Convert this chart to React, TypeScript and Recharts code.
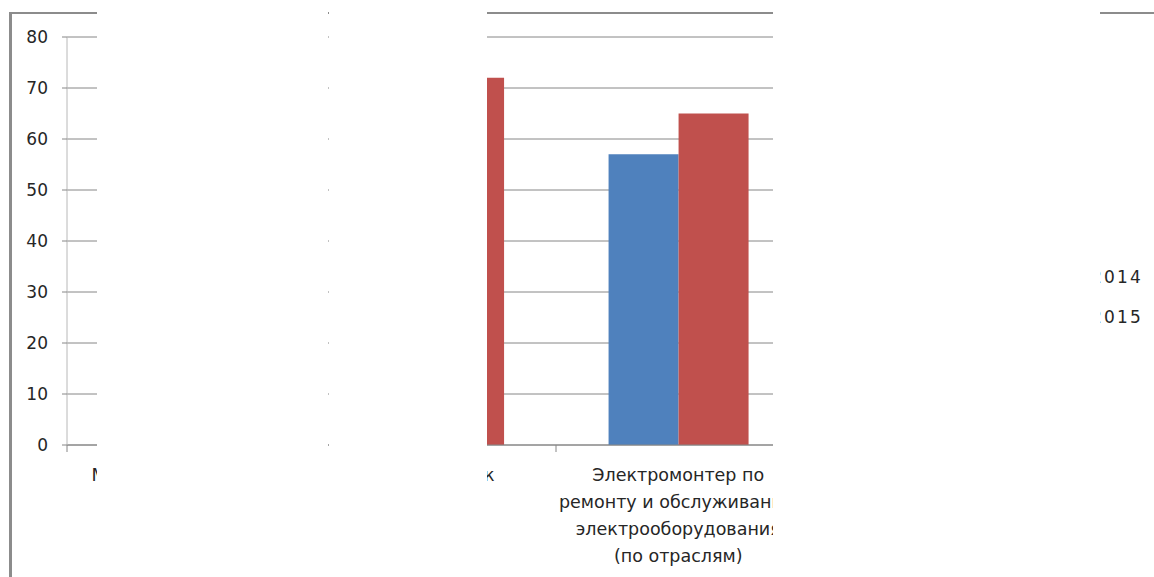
import React from "react";
import { Bar, BarChart, CartesianGrid, Legend, XAxis, YAxis } from "recharts";

// categories (label lines split by \n), series and axis ticks
const categories = [
  "Мастер столярного и\nмебельного\nпроизводства",
  "Автомеханик",
  "Электромонтер по\nремонту и обслуживанию\nэлектрооборудования\n(по отраслям)",
  "",
];
const seriesNames = ["2014", "2015"];
const values2014 = [null, null, 57, null];
const values2015 = [null, 72, 65, null];
const yTicks = [0, 10, 20, 30, 40, 50, 60, 70, 80];
const edgeTicks = [0, 1, 2, 3, 4];

const BLUE = "#4F81BD";
const RED = "#C0504D";
const GRID = "#868686";
const FONT = "'DejaVu Sans', Verdana, sans-serif";

const data = categories.map((name, i) => ({
  name,
  pos: i + 0.5,
  y2014: values2014[i],
  y2015: values2015[i],
}));

const CategoryTick = ({ x, y, payload }: any) => {
  const lines = String(payload.value).split("\n");
  return (
    <text x={x} y={y + 27} textAnchor="middle" fontFamily={FONT} fontSize={17.5} fill="#262626">
      {lines.map((line, i) => (
        <tspan key={i} x={x} dy={i === 0 ? 0 : 27}>
          {line}
        </tspan>
      ))}
    </text>
  );
};

const LegendBox = ({ payload }: any) => (
  <div style={{ fontFamily: FONT, fontSize: 17, color: "#262626" }}>
    {(payload || []).map((item: any) => (
      <div key={item.value} style={{ display: "flex", alignItems: "center", height: 40 }}>
        <span style={{ width: 10, height: 10, background: item.color, marginRight: 7 }} />
        <span style={{ letterSpacing: 2.2 }}>{item.value}</span>
      </div>
    ))}
  </div>
);

const mask = (left: number, width: number): React.CSSProperties => ({
  position: "absolute",
  left,
  top: 0,
  width,
  height: 577,
  background: "#fff",
});

export default function App() {
  return (
    <div
      style={{
        position: "absolute",
        left: 0,
        top: 0,
        width: 1154,
        height: 577,
        overflow: "hidden",
        background: "#fff",
      }}
    >
      <div
        style={{
          position: "absolute",
          left: 9,
          top: 12,
          width: 2000,
          height: 2000,
          borderLeft: "3px solid #8c8c8c",
          borderTop: "2px solid #8c8c8c",
        }}
      />
      <BarChart
        width={1154}
        height={577}
        data={data}
        margin={{ top: 37, right: 109, bottom: 0, left: 0 }}
        barCategoryGap="21.5%"
        barGap={0}
        style={{ position: "absolute", left: 0, top: 0 }}
      >
        <CartesianGrid horizontal vertical={false} stroke={GRID} xAxisId="bCat" />
        <XAxis
          xAxisId="aEdge"
          type="number"
          dataKey="pos"
          domain={[0, categories.length]}
          ticks={edgeTicks}
          allowDataOverflow
          height={1}
          tickSize={7}
          tickLine={{ stroke: GRID }}
          axisLine={{ stroke: GRID }}
          tick={() => <g />}
        />
        <XAxis
          xAxisId="bCat"
          dataKey="name"
          height={131}
          interval={0}
          axisLine={false}
          tickLine={false}
          tick={<CategoryTick />}
        />
        <YAxis
          width={67}
          domain={[0, 80]}
          ticks={yTicks}
          tickSize={5}
          tickMargin={14}
          axisLine={{ stroke: "#b8b8b8" }}
          tickLine={{ stroke: GRID }}
          tick={{ fontFamily: FONT, fontSize: 17, fill: "#262626" }}
        />
        <Legend
          layout="vertical"
          verticalAlign="middle"
          align="center"
          content={<LegendBox />}
          wrapperStyle={{ position: "absolute", left: 1074, top: 257, width: 90 }}
        />
        <Bar xAxisId="bCat" dataKey="y2014" name={seriesNames[0]} fill={BLUE} isAnimationActive={false} />
        <Bar xAxisId="bCat" dataKey="y2015" name={seriesNames[1]} fill={RED} isAnimationActive={false} />
      </BarChart>
      <div style={mask(97, 231)} />
      <div style={mask(329, 158)} />
      <div style={mask(773, 327)} />
    </div>
  );
}
